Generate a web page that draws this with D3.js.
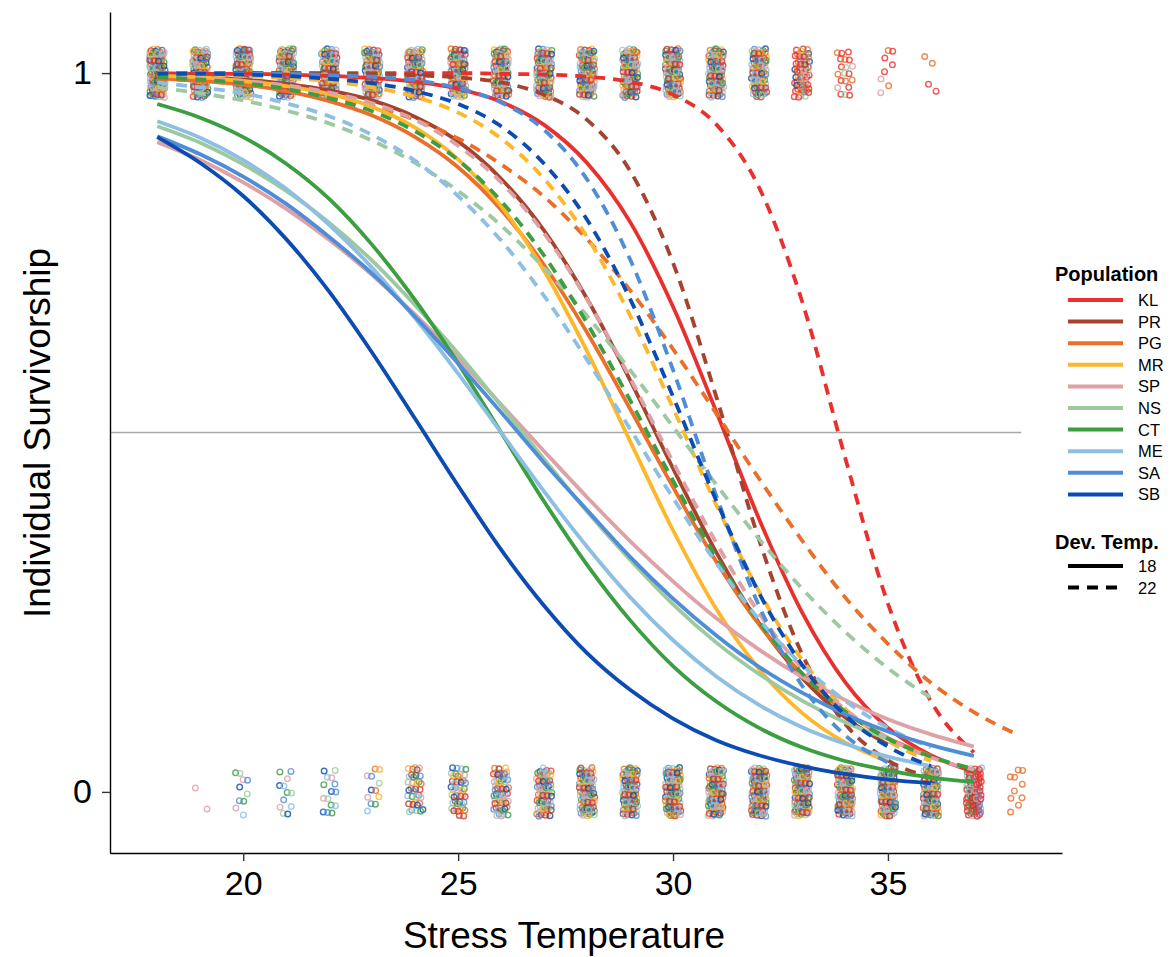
<!DOCTYPE html>
<html>
<head>
<meta charset="utf-8">
<script src="https://cdn.jsdelivr.net/npm/d3@7"></script>
<style>
  body{margin:0;background:#fff;}
  svg text{font-family:"Liberation Sans",Arial,Helvetica,sans-serif;fill:#000;}
</style>
</head>
<body>
<svg id="chart" width="1172" height="957"></svg>
<script>
// populations and their colours
var pops = ["KL","PR","PG","MR","SP","NS","CT","ME","SA","SB"];
var popColors = ["#e8312f","#a5432f","#ea6f2a","#fdb72a","#dea1a6","#9dc9a1","#3b9e40","#8cbfe1","#4f8ed6","#0b4bb2"];
var devTemps = ["18","22"];

// stress temperatures (fitted curves start at 18)
var temps = [18,19,20,21,22,23,24,25,26,27,28,29,30,31,32,33,34,35,36,37,38];

// fitted survivorship, dev. temp 18 (solid)
var KL_18 = [1.000,0.999,0.999,0.998,0.996,0.993,0.988,0.978,0.960,0.928,0.875,0.793,0.675,0.530,0.380,0.250,0.153,0.089,0.051,0.028];
var PR_18 = [0.997,0.995,0.991,0.985,0.976,0.962,0.939,0.905,0.853,0.781,0.686,0.573,0.450,0.334,0.235,0.159,0.104,0.066];
var PG_18 = [0.993,0.989,0.984,0.975,0.961,0.941,0.911,0.869,0.810,0.733,0.639,0.533,0.424,0.321,0.233,0.164,0.112,0.075,0.050];
var MR_18 = [0.996,0.994,0.989,0.982,0.971,0.953,0.924,0.880,0.815,0.725,0.613,0.488,0.364,0.255,0.171,0.110,0.069,0.043];
var SP_18 = [0.904,0.879,0.848,0.811,0.768,0.719,0.664,0.603,0.539,0.474,0.410,0.349,0.293,0.242,0.198,0.160,0.128,0.101,0.080,0.063];
var NS_18 = [0.926,0.903,0.873,0.836,0.792,0.739,0.677,0.610,0.537,0.463,0.390,0.323,0.261,0.208,0.164,0.127,0.097,0.074];
var CT_18 = [0.957,0.938,0.911,0.874,0.825,0.761,0.684,0.596,0.500,0.404,0.316,0.239,0.175,0.126,0.089,0.062,0.043,0.030,0.020,0.014];
var ME_18 = [0.933,0.910,0.879,0.839,0.789,0.729,0.659,0.582,0.500,0.418,0.341,0.271,0.211,0.161,0.121,0.090,0.067,0.049,0.036];
var SA_18 = [0.912,0.887,0.856,0.818,0.772,0.721,0.661,0.596,0.528,0.458,0.392,0.327,0.269,0.218,0.174,0.138,0.108,0.084,0.065,0.050];
var SB_18 = [0.911,0.875,0.829,0.769,0.696,0.611,0.519,0.426,0.337,0.259,0.193,0.142,0.102,0.072,0.051,0.036,0.025,0.017,0.012];

// fitted survivorship, dev. temp 22 (dashed)
var KL_22 = [1.000,1.000,1.000,1.000,1.000,1.000,1.000,1.000,0.999,0.998,0.995,0.988,0.970,0.929,0.841,0.683,0.466,0.262,0.126,0.055];
var PR_22 = [1.000,1.000,1.000,1.000,0.999,0.999,0.997,0.994,0.987,0.970,0.935,0.864,0.736,0.551,0.351,0.192,0.095,0.044,0.020];
var PG_22 = [0.992,0.989,0.984,0.977,0.967,0.954,0.935,0.909,0.873,0.828,0.769,0.698,0.616,0.527,0.436,0.350,0.271,0.206,0.152,0.111,0.080];
var MR_22 = [0.999,0.998,0.996,0.993,0.989,0.980,0.967,0.945,0.909,0.853,0.772,0.663,0.534,0.400,0.279,0.184,0.116,0.071,0.043];
var SP_22 = [0.996,0.993,0.989,0.983,0.973,0.958,0.935,0.899,0.848,0.777,0.685,0.576,0.459,0.347,0.249,0.172,0.115,0.075,0.048,0.031];
var NS_22 = [0.980,0.972,0.962,0.948,0.930,0.906,0.875,0.836,0.788,0.729,0.662,0.587,0.508,0.428,0.352,0.283,0.223,0.172,0.131];
var CT_22 = [0.994,0.991,0.986,0.978,0.965,0.947,0.919,0.879,0.822,0.746,0.652,0.545,0.433,0.327,0.237,0.165,0.112,0.074,0.049,0.032];
var ME_22 = [0.987,0.980,0.972,0.958,0.940,0.914,0.878,0.829,0.767,0.690,0.601,0.505,0.409,0.319,0.240,0.177,0.127,0.089,0.062];
var SA_22 = [1.000,1.000,0.999,0.999,0.997,0.995,0.990,0.979,0.959,0.921,0.852,0.741,0.587,0.413,0.259,0.148,0.079,0.041];
var SB_22 = [0.999,0.999,0.998,0.996,0.992,0.986,0.975,0.957,0.926,0.874,0.796,0.686,0.550,0.406,0.277,0.177,0.107,0.063,0.036];

// individuals: survivors (y=1) and deaths (y=0) per stress temperature
var aliveTemps = [18,19,20,21,22,23,24,25,26,27,28,29,30,31,32,33,34,35,36];
var aliveN     = [120,110,110,110,110,100,100,100,100,100,100,100,100,90,80,60,20,8,4];
var aliveMix   = ["*","*","*","*","*","*","*","*","*","*","*","*","*","*","*","KL PR PG KL MR SA KL SB PG SP NS KL",
                  "KL PG KL SP KL NS KL PG","KL PG KL SP","KL PG"];
var deadTemps  = [19,20,21,22,23,24,25,26,27,28,29,30,31,32,33,34,35,36,37,38];
var deadN      = [2,10,12,15,12,35,45,55,65,80,90,100,100,110,110,110,110,110,90,10];
var deadMix    = ["SP","CT NS ME SB SP SA","CT NS SB ME SP SA","SB SA CT ME SP NS","CT NS ME SB PG MR SP SA",
                  "*","*","*","*","*","*","*","*","*","*","*","*","*","KL KL CT KL SA KL PR SP KL ME NS KL","PG"];

var refLine = {y:0.5, from:16.9, to:38.1};
var xTicks = [20,25,30,35];
var yTicks = [0,1];

var svg = d3.select('#chart');
var x = d3.scaleLinear().domain([16.9,39.05]).range([110,1062]);
var y = d3.scaleLinear().domain([-0.085,1.085]).range([853,12]);
var color = d3.scaleOrdinal().domain(pops).range(popColors);

// fitted curves table
var curveData = {KL_18:KL_18,PR_18:PR_18,PG_18:PG_18,MR_18:MR_18,SP_18:SP_18,NS_18:NS_18,CT_18:CT_18,ME_18:ME_18,SA_18:SA_18,SB_18:SB_18,
                 KL_22:KL_22,PR_22:PR_22,PG_22:PG_22,MR_22:MR_22,SP_22:SP_22,NS_22:NS_22,CT_22:CT_22,ME_22:ME_22,SA_22:SA_22,SB_22:SB_22};
var fits = [];
pops.forEach(function(p){
  devTemps.forEach(function(dt){
    fits.push({pop:p, dev:dt, values:curveData[p+'_'+dt]});
  });
});

// individual points, jittered with a fixed low-discrepancy sequence
function frac(v){return v - Math.floor(v);}
var pts = [];
function addColumn(t, n, mix, yv, k){
  var list = mix === "*" ? pops : mix.split(" ");
  for(var j=0;j<n;j++){
    var p = list[(j*7 + k) % list.length];
    var jx = (frac(0.5 + (j+1)*0.7548776662 + k*0.31) - 0.5) * 0.36;
    var jy = (frac(0.5 + (j+1)*0.5698402910 + k*0.17) - 0.5) * 0.068;
    pts.push({t:t+jx, v:yv+jy, pop:p});
  }
}
aliveTemps.forEach(function(t,i){ addColumn(t, aliveN[i], aliveMix[i], 1, i); });
deadTemps.forEach(function(t,i){ addColumn(t, deadN[i], deadMix[i], 0, i+3); });

svg.append('g').attr('class','points')
  .selectAll('circle').data(pts).enter().append('circle')
  .attr('cx',function(d){return x(d.t);})
  .attr('cy',function(d){return y(d.v);})
  .attr('r',2.8)
  .style('fill','none')
  .style('stroke',function(d){return color(d.pop);})
  .style('stroke-width',1.4)
  .style('opacity',0.8);

// reference line at 50 %
svg.append('line')
  .attr('x1',x(refLine.from)).attr('x2',x(refLine.to))
  .attr('y1',y(refLine.y)).attr('y2',y(refLine.y))
  .style('stroke','#a8a8a8').style('stroke-width',1.6);

// curves
var line = d3.line()
  .x(function(d,i){return x(temps[i]);})
  .y(function(d){return y(d);})
  .curve(d3.curveMonotoneX);

svg.append('g').attr('class','fits')
  .selectAll('path').data(fits).enter().append('path')
  .attr('d',function(d){return line(d.values);})
  .style('fill','none')
  .style('stroke',function(d){return color(d.pop);})
  .style('stroke-width',3.8)
  .style('stroke-dasharray',function(d){return d.dev==='22' ? '11,8' : null;});

// axes
var axisX = d3.axisBottom(x).tickValues(xTicks).tickSize(8).tickPadding(10).tickSizeOuter(0);
var gx = svg.append('g').attr('class','axis').attr('transform','translate(0,853)').call(axisX);
var axisY = d3.axisLeft(y).tickValues(yTicks).tickFormat(d3.format('d')).tickSize(8).tickPadding(10).tickSizeOuter(0);
var gy = svg.append('g').attr('class','axis').attr('transform','translate(110,0)').call(axisY);
svg.selectAll('.axis .domain').style('stroke','#000').style('stroke-width',1.4);
svg.selectAll('.axis .tick line').style('stroke','#333').style('stroke-width',1.4);
svg.selectAll('.axis text').style('font-size','34px').style('fill','#000')
  .style('font-family','"Liberation Sans",Arial,sans-serif');

// axis titles
svg.append('text').attr('x',564).attr('y',948).attr('text-anchor','middle')
  .style('font-size','37px').text('Stress Temperature');
svg.append('text').attr('transform','translate(50,433) rotate(-90)').attr('text-anchor','middle')
  .style('font-size','37px').text('Individual Survivorship');

// legend
var lg = svg.append('g').attr('class','legend');
lg.append('text').attr('x',1055).attr('y',281).style('font-size','20px').style('font-weight','bold').text('Population');
var rows = lg.selectAll('.row').data(pops).enter().append('g').attr('class','row')
  .attr('transform',function(d,i){return 'translate(0,' + (300 + i*21.6) + ')';});
rows.append('line').attr('x1',1068).attr('x2',1123)
  .style('stroke',function(d){return color(d);}).style('stroke-width',4);
rows.append('text').attr('x',1138).attr('y',6).style('font-size','16.5px').text(function(d){return d;});

lg.append('text').attr('x',1055).attr('y',549).style('font-size','20px').style('font-weight','bold').text('Dev. Temp.');
var drows = lg.selectAll('.drow').data(devTemps).enter().append('g').attr('class','drow')
  .attr('transform',function(d,i){return 'translate(0,' + (566 + i*21.6) + ')';});
drows.append('line').attr('x1',1068).attr('x2',1123)
  .style('stroke','#000').style('stroke-width',4)
  .style('stroke-dasharray',function(d){return d==='22' ? '11,8' : null;});
drows.append('text').attr('x',1138).attr('y',6).style('font-size','16.5px').text(function(d){return d;});
</script>
</body>
</html>
